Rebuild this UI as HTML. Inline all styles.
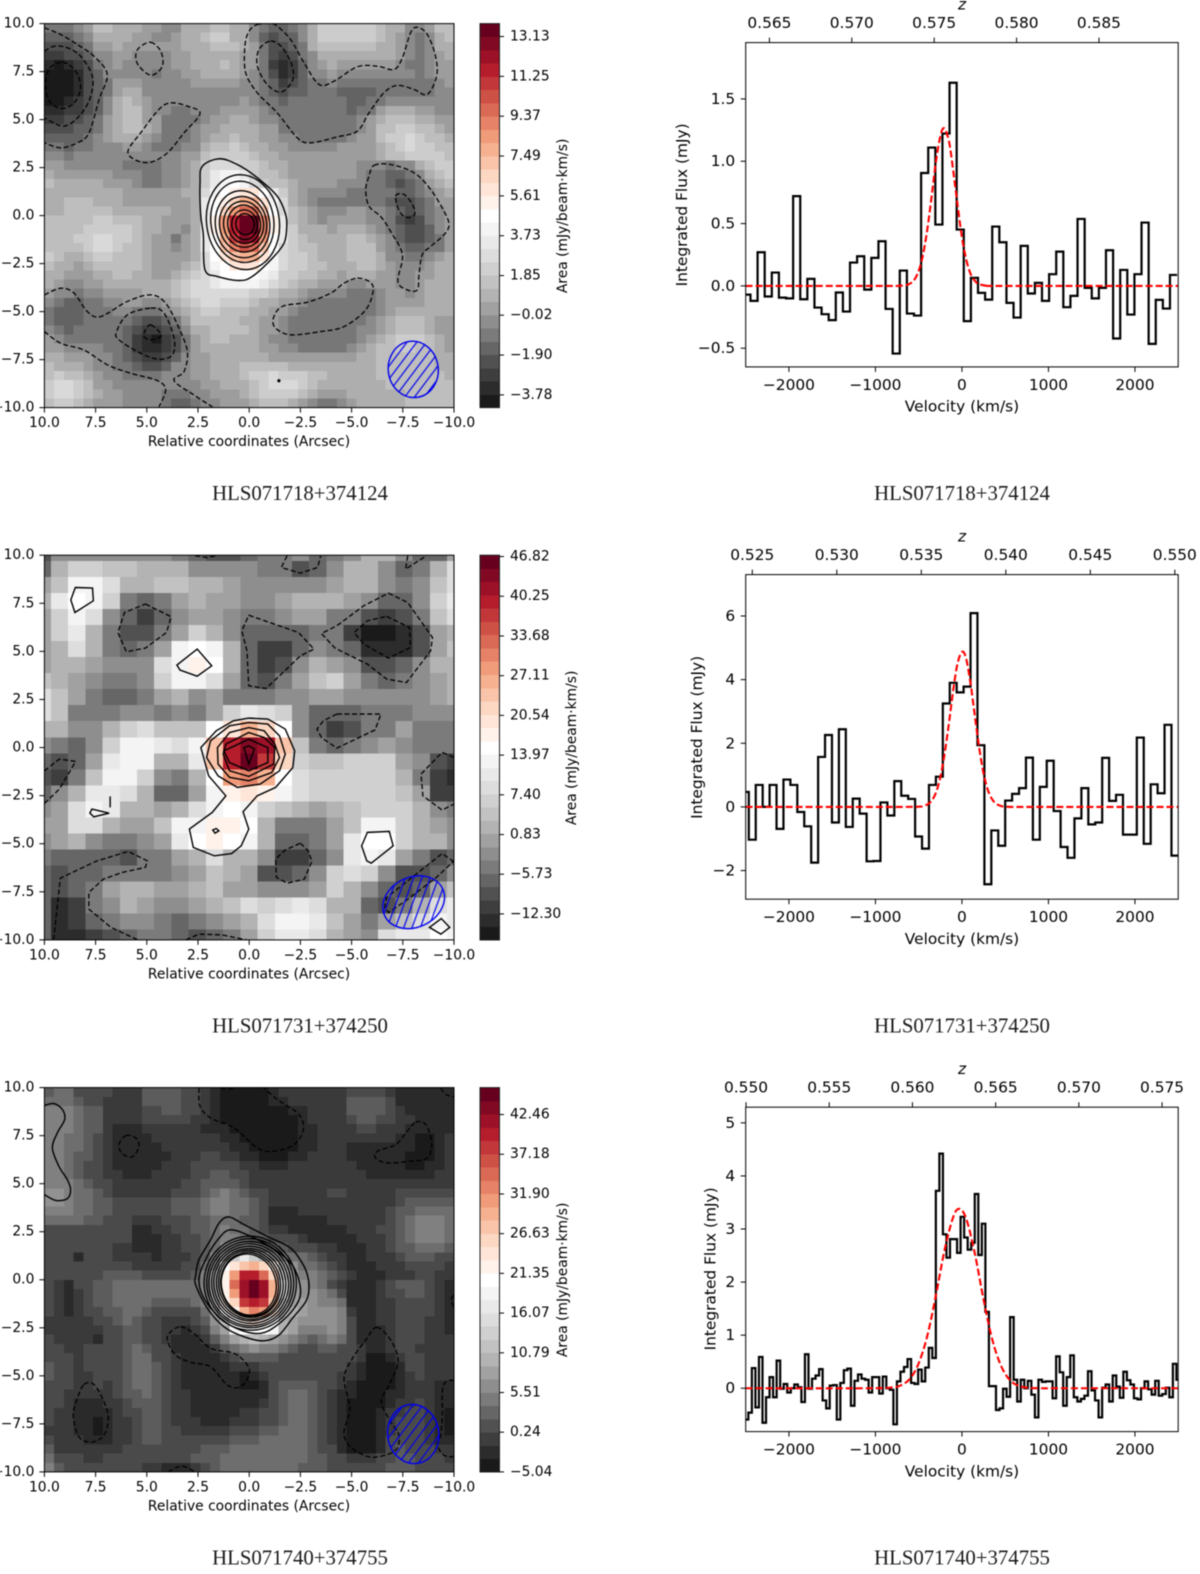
<!DOCTYPE html>
<html lang="en">
<head>
<meta charset="utf-8">
<title>HLS spectral line maps and spectra</title>
<style>
html,body{margin:0;padding:0;background:#fff;}
#figure{position:absolute;left:0;top:0;width:1200px;height:1574px;filter:blur(0.5px);}
text{font-family:"DejaVu Sans",sans-serif;fill:#000;}
.cap{font-family:"Liberation Serif",serif;font-size:20.8px;text-anchor:middle;fill:#1a1a1a;}
.lab-map{font-size:13.85px;text-anchor:middle;}
.lab-spec{font-size:15.4px;text-anchor:middle;}
</style>
</head>
<body>
<svg id="figure" xmlns="http://www.w3.org/2000/svg" width="1200" height="1574" viewBox="0 0 1200 1574">
<defs>
<pattern id="hatch" width="7.8" height="7.8" patternUnits="userSpaceOnUse" patternTransform="rotate(-45)"><line x1="0" y1="1" x2="7.8" y2="1" stroke="#0000ee" stroke-width="1.2"/></pattern>
<clipPath id="clip-map-a"><rect x="44.4" y="22.7" width="409.6" height="384"/></clipPath>
<clipPath id="clip-map-b"><rect x="44.4" y="554.3" width="409.6" height="384.7"/></clipPath>
<clipPath id="clip-map-c"><rect x="44.4" y="1086.7" width="409.6" height="384.3"/></clipPath>
<clipPath id="clip-spec-a"><rect x="745.7" y="41.7" width="432.5" height="324.3"/></clipPath>
<clipPath id="clip-spec-b"><rect x="745.7" y="573.7" width="432.5" height="324.6"/></clipPath>
<clipPath id="clip-spec-c"><rect x="745.7" y="1106.3" width="432.5" height="324.4"/></clipPath>
</defs>

<g transform="translate(0,0.9)">
<g id="map-a"></g>
<g id="map-b"></g>
<g id="map-c"></g>
<g id="spec-a"></g>
<g id="spec-b"></g>
<g id="spec-c"></g>

<text class="lab-map" x="249" y="441" dominant-baseline="central">Relative coordinates (Arcsec)</text>
<text class="lab-map" x="249" y="973.5" dominant-baseline="central">Relative coordinates (Arcsec)</text>
<text class="lab-map" x="249" y="1505.5" dominant-baseline="central">Relative coordinates (Arcsec)</text>
<text class="lab-map" transform="translate(563,215) rotate(-90)" dominant-baseline="central">Area (mJy/beam·km/s)</text>
<text class="lab-map" transform="translate(572,747) rotate(-90)" dominant-baseline="central">Area (mJy/beam·km/s)</text>
<text class="lab-map" transform="translate(563,1279) rotate(-90)" dominant-baseline="central">Area (mJy/beam·km/s)</text>

<text class="lab-spec" x="962" y="405.7" dominant-baseline="central">Velocity (km/s)</text>
<text class="lab-spec" x="962" y="938" dominant-baseline="central">Velocity (km/s)</text>
<text class="lab-spec" x="962" y="1470.5" dominant-baseline="central">Velocity (km/s)</text>
<text class="lab-spec" transform="translate(682,204) rotate(-90)" dominant-baseline="central">Integrated Flux (mJy)</text>
<text class="lab-spec" transform="translate(697,736.5) rotate(-90)" dominant-baseline="central">Integrated Flux (mJy)</text>
<text class="lab-spec" transform="translate(710.6,1268) rotate(-90)" dominant-baseline="central">Integrated Flux (mJy)</text>
<text class="lab-spec" x="962" y="3.7" dominant-baseline="central" font-style="italic">z</text>
<text class="lab-spec" x="962" y="535.7" dominant-baseline="central" font-style="italic">z</text>
<text class="lab-spec" x="962" y="1068" dominant-baseline="central" font-style="italic">z</text>
</g>

<text class="cap" x="300" y="500">HLS071718+374124</text>
<text class="cap" x="962" y="500">HLS071718+374124</text>
<text class="cap" x="300" y="1032.5">HLS071731+374250</text>
<text class="cap" x="962" y="1032.5">HLS071731+374250</text>
<text class="cap" x="300" y="1564.5">HLS071740+374755</text>
<text class="cap" x="962" y="1564.5">HLS071740+374755</text>
</svg>

<script>
/* ---------- heatmap values: colour-band index per cell, 0 (darkest) to 28 (deepest red) ---------- */
const heatA = [
[5,5,5,6,7,9,9,8,8,8,7,7,6,6,8,8,8,9,9,8,8,6,5,4,4,5,6,8,10,10,10,10,10,10,9,8,8,6,6,7,9,9],
[4,4,4,5,6,8,8,8,8,7,7,6,6,7,8,8,9,10,10,8,8,6,4,3,4,4,6,8,10,10,10,10,10,10,9,8,7,6,5,6,8,9],
[3,3,3,4,5,7,7,8,7,7,7,7,7,7,8,8,8,9,9,9,8,7,5,3,3,4,5,8,9,9,9,9,9,9,8,8,7,6,5,6,8,8],
[2,2,3,3,4,6,6,7,7,6,6,6,6,7,7,8,8,8,8,8,7,7,5,3,2,3,5,6,8,8,8,8,8,8,8,8,7,6,5,6,7,8],
[1,0,1,2,3,5,6,7,6,6,6,6,6,7,7,8,8,8,9,8,7,7,5,2,1,2,4,6,7,8,7,7,7,7,7,7,6,5,5,6,7,7],
[0,0,0,1,3,4,6,6,6,6,6,5,6,6,7,7,8,8,8,8,7,6,5,3,1,2,4,6,6,7,6,6,6,6,6,6,6,6,5,6,7,7],
[0,0,0,1,3,4,5,7,7,7,6,6,6,6,6,7,7,7,7,7,6,6,5,4,2,3,4,5,5,6,5,5,5,5,5,5,5,5,5,5,6,7],
[0,0,0,1,3,4,5,7,8,8,6,6,6,6,6,6,6,6,6,6,6,6,5,4,3,4,4,5,5,5,4,4,4,4,5,5,5,5,5,5,6,6],
[0,0,1,2,3,4,6,8,9,8,7,6,6,6,6,6,6,6,6,6,7,6,5,5,4,5,5,5,5,5,5,4,4,5,5,6,6,6,6,6,6,6],
[1,1,2,2,3,4,6,8,9,9,7,6,6,5,5,6,6,6,7,7,7,7,6,5,5,5,5,5,5,5,5,4,5,5,7,8,8,8,7,7,6,6],
[2,2,3,3,4,5,7,8,9,9,7,7,5,5,5,5,6,7,7,8,8,7,6,6,5,5,5,5,5,5,5,5,6,7,8,9,9,9,8,8,7,7],
[3,3,3,4,4,5,7,8,9,9,8,7,5,5,5,6,7,7,8,8,8,8,7,7,5,5,5,5,5,5,5,5,6,7,9,9,10,10,9,9,8,7],
[4,4,4,4,5,6,7,8,8,8,7,6,5,5,5,6,7,8,8,9,8,8,7,7,6,6,5,5,5,5,5,6,7,7,9,10,10,11,10,9,9,8],
[5,5,4,5,5,6,6,6,7,7,6,5,5,5,6,6,8,9,9,10,9,8,8,7,7,6,6,6,6,6,7,7,7,7,8,9,10,11,10,10,9,9],
[6,6,5,6,6,6,6,6,6,6,6,6,6,6,7,7,9,10,10,10,10,9,8,8,7,7,7,7,7,7,7,7,7,7,8,9,9,10,10,10,10,9],
[7,7,6,6,6,6,6,6,5,5,5,5,6,6,7,8,10,11,11,11,10,10,9,8,8,7,7,7,7,7,7,7,6,6,6,5,6,6,8,9,10,10],
[8,7,7,7,7,7,7,6,6,6,5,5,6,6,7,8,10,12,13,13,12,10,9,9,8,7,7,7,7,7,7,7,6,5,5,4,4,5,6,8,9,10],
[9,8,8,8,8,8,7,7,7,6,5,5,6,6,7,8,10,12,13,14,13,11,10,9,9,8,7,7,7,7,6,6,6,5,5,4,3,4,5,7,8,9],
[8,8,8,8,8,8,8,8,7,7,7,7,7,7,8,8,11,13,14,15,16,16,14,12,10,8,7,6,6,6,6,5,5,5,5,5,4,4,5,6,7,8],
[8,8,9,9,9,8,8,8,7,7,7,7,7,7,7,8,12,14,15,17,19,19,16,13,11,8,7,6,5,5,5,5,5,5,5,4,3,3,4,5,7,7],
[8,8,9,9,9,9,9,8,8,8,8,8,8,7,7,8,12,14,17,20,22,22,18,14,11,9,8,7,6,6,6,7,7,6,6,5,4,3,4,5,6,7],
[9,9,9,9,9,10,10,9,9,9,8,8,7,7,7,8,12,15,20,25,28,28,21,15,12,9,8,7,6,7,7,7,7,6,6,5,3,2,3,5,6,7],
[9,9,9,9,10,10,10,10,10,9,8,8,7,7,6,8,12,15,20,25,28,28,21,15,12,10,8,8,8,7,8,8,8,7,6,5,4,3,3,4,6,7],
[9,9,9,10,10,11,11,10,10,9,8,7,7,5,7,8,12,14,19,24,27,26,20,14,12,10,9,8,8,8,8,9,9,8,7,6,4,3,3,4,5,7],
[9,9,9,9,10,11,11,10,9,9,8,7,7,6,7,8,12,14,18,21,23,22,18,14,11,10,9,9,8,8,8,9,9,9,7,6,5,4,4,5,5,7],
[10,9,8,8,9,10,10,9,9,9,8,7,7,7,7,8,11,14,16,18,19,19,16,13,11,10,10,9,8,8,8,9,9,9,8,6,6,5,5,6,7,8],
[9,8,8,7,8,9,9,9,9,9,8,7,7,7,8,9,11,13,14,16,16,16,14,13,11,10,10,9,9,8,8,8,9,9,8,7,6,6,6,7,8,8],
[8,8,7,7,7,8,8,9,9,8,8,7,7,8,9,10,11,12,14,14,14,14,13,12,10,10,9,9,8,8,7,8,8,8,7,7,6,6,7,7,8,8],
[8,7,6,6,7,7,8,8,8,8,8,8,8,9,10,11,11,12,13,13,13,13,12,11,10,9,8,8,7,7,7,6,6,7,7,7,6,6,7,8,8,8],
[7,6,6,5,6,6,7,7,7,7,8,8,8,9,10,11,11,11,11,11,11,10,10,9,8,8,7,6,6,6,6,5,5,5,6,7,7,6,7,8,8,8],
[6,5,4,4,5,5,6,6,7,7,6,6,7,8,9,10,11,11,10,10,10,9,8,8,7,7,6,5,5,5,5,5,5,5,6,7,7,7,7,8,8,8],
[5,4,4,4,5,5,5,6,6,5,5,5,6,7,8,9,10,10,9,9,9,8,8,7,7,6,5,5,5,5,5,5,5,5,6,7,8,8,8,8,8,8],
[5,4,4,4,5,5,5,5,5,4,3,3,4,5,7,9,9,9,9,9,8,8,7,7,6,5,5,5,5,5,5,5,5,6,7,8,9,9,9,8,7,7],
[6,5,4,5,5,5,5,5,4,3,2,2,3,4,6,8,8,9,9,9,9,8,7,7,6,5,5,5,5,5,5,5,6,6,7,8,9,9,9,8,7,7],
[7,6,5,5,5,5,5,5,4,2,1,0,2,3,5,7,8,9,9,8,8,8,7,6,6,5,5,5,5,5,5,5,6,7,8,9,10,10,10,9,8,7],
[7,7,6,6,6,6,5,5,4,2,1,1,2,3,5,7,8,8,8,8,8,8,7,7,6,6,5,5,5,5,5,6,7,8,9,9,10,10,9,9,8,7],
[8,8,7,7,7,6,6,5,4,3,2,2,3,4,6,7,7,8,8,8,8,8,8,7,7,7,7,7,7,7,7,7,8,8,9,9,9,9,9,9,8,8],
[9,8,8,8,7,6,6,5,5,4,3,3,4,6,6,7,7,8,8,8,9,9,9,9,9,8,8,8,8,8,8,8,8,8,9,9,9,9,9,9,8,8],
[9,10,9,9,8,7,6,6,5,5,5,5,6,6,6,7,7,8,8,8,9,10,10,11,10,10,10,9,9,8,8,8,8,8,9,9,9,9,9,9,9,8],
[10,11,11,10,9,7,7,6,6,6,6,6,6,6,6,6,7,7,8,8,8,9,10,11,11,11,10,9,8,8,8,8,8,8,8,9,9,9,9,9,9,9],
[10,11,11,10,9,8,7,7,6,6,6,6,5,5,5,6,6,7,7,7,8,9,10,10,10,10,9,8,7,7,7,8,8,8,8,8,8,9,9,9,9,9],
[9,10,10,9,8,7,7,7,6,6,6,6,5,4,4,5,6,6,7,7,7,8,9,9,9,8,7,6,5,5,6,7,8,8,8,8,8,9,9,9,9,9]
];
const heatB = [
[3,6,6,6,6,6,6,6,5,4,3,3,4,5,5,6,4,5,6,8,8,6,4,4,7],
[4,8,10,10,9,9,8,8,8,6,6,6,6,5,5,3,4,6,8,8,6,4,5,8,11],
[7,9,13,13,11,8,8,9,9,8,8,7,6,6,6,6,6,7,8,8,6,5,6,9,11],
[8,12,14,13,10,5,4,5,7,8,7,7,6,6,7,8,8,8,7,6,4,4,6,10,12],
[7,10,13,11,6,4,2,4,6,7,7,6,5,5,6,7,7,5,5,3,2,3,5,9,11],
[7,10,12,8,5,3,3,5,7,10,8,6,4,4,4,4,5,5,2,0,0,1,3,7,8],
[7,8,11,8,5,4,5,7,13,14,13,8,4,2,2,4,6,5,4,1,1,1,3,7,9],
[7,8,8,7,6,6,6,11,13,15,14,8,4,2,3,6,8,7,6,3,3,4,6,8,8],
[9,8,7,6,5,5,6,10,13,13,11,7,4,3,5,7,9,10,7,5,4,5,6,7,8],
[11,9,7,5,4,4,5,7,8,6,7,5,5,5,6,6,7,7,6,6,6,6,6,7,8],
[11,9,5,5,5,6,6,5,6,5,7,10,12,11,10,6,4,4,4,5,5,5,6,6,6],
[8,8,6,6,8,10,11,9,9,9,14,16,19,17,14,6,4,2,3,5,5,7,5,5,5],
[6,5,4,6,10,13,13,12,11,13,18,25,27,26,18,9,5,4,5,6,7,6,5,5,5],
[4,3,4,7,12,13,13,8,8,12,18,25,28,24,17,10,9,9,10,10,10,7,6,3,2],
[3,2,5,9,13,13,10,6,5,8,14,20,21,19,14,11,10,10,10,10,10,8,5,2,1],
[4,6,8,12,12,11,8,4,4,7,13,15,16,15,13,11,10,10,10,10,10,9,7,2,2],
[6,7,11,13,12,8,8,7,8,11,13,14,13,10,9,8,7,8,9,10,10,10,8,6,5],
[7,7,11,11,8,7,7,9,13,13,15,15,14,8,5,5,5,7,9,13,13,10,8,7,6],
[6,7,8,6,5,5,6,7,12,14,15,14,13,8,4,4,5,7,12,14,14,10,8,8,6],
[5,4,4,4,4,3,5,5,7,8,11,8,8,6,2,2,4,6,12,13,12,7,5,3,4],
[4,3,4,4,5,5,5,5,6,7,9,8,7,3,3,4,6,10,11,10,6,3,3,4,6],
[4,3,4,5,7,8,8,7,7,8,9,7,7,6,6,6,7,10,8,6,4,3,4,7,9],
[4,1,2,5,6,8,7,6,6,7,8,9,11,10,11,12,11,8,8,4,3,5,8,11,12],
[4,1,2,4,5,6,6,5,4,5,6,7,8,11,13,13,12,9,7,5,7,9,11,13,12],
[4,1,1,2,3,4,5,5,4,3,4,5,7,10,12,12,11,8,7,6,11,12,12,14,13]
];
const heatC = [
[4,5,5,3,3,3,3,2,2,2,4,4,4,4,3,3,2,1,0,0,0,0,0,1,2,2,2,2,2,2,2,3,3,3,3,2,1,1,1,1,1,1],
[5,5,5,4,3,3,2,2,2,2,4,4,4,4,3,3,2,1,0,0,0,0,0,1,1,2,2,2,2,2,2,4,4,4,4,3,1,1,1,1,1,1],
[6,6,6,5,4,4,2,2,2,2,3,3,4,4,3,3,2,1,0,0,0,0,0,0,0,1,1,2,2,2,2,4,4,4,4,3,2,1,1,1,1,1],
[6,6,6,5,4,4,2,2,2,2,3,3,3,3,3,2,2,1,0,0,0,0,0,0,0,0,1,2,2,2,2,3,4,4,3,3,2,2,1,1,1,1],
[6,6,6,5,4,4,2,1,1,1,2,2,2,2,2,2,1,1,1,0,0,0,0,0,0,0,1,1,2,2,2,2,3,3,2,2,2,1,1,1,1,1],
[6,6,5,5,4,3,2,1,1,1,1,2,2,2,2,2,2,2,1,1,0,0,0,0,0,0,1,1,2,2,2,2,2,2,2,2,1,1,0,0,1,2],
[6,6,5,5,4,3,2,1,1,1,1,1,2,2,2,2,2,2,2,1,1,0,0,0,0,0,1,1,2,2,2,1,1,1,1,1,1,1,0,0,1,2],
[6,6,5,4,4,3,2,1,1,1,1,1,1,2,2,2,3,3,2,2,1,1,0,0,0,1,1,2,2,2,2,1,1,1,1,1,1,0,0,0,1,2],
[6,6,5,4,3,3,2,1,1,1,1,1,2,2,2,3,3,3,3,3,2,2,1,1,1,2,2,2,2,2,2,2,1,1,1,1,1,0,0,1,1,2],
[6,6,5,4,3,3,2,2,1,1,1,2,2,2,2,3,3,4,4,3,3,2,2,2,2,2,2,2,2,2,2,2,2,1,1,1,1,1,1,1,2,2],
[6,6,6,5,4,3,3,2,2,2,2,2,2,2,3,3,4,4,4,4,3,2,2,2,2,2,2,2,2,2,2,2,2,2,2,2,2,2,2,2,2,2],
[7,7,6,5,5,4,3,2,2,2,2,2,2,3,3,3,4,5,6,5,4,3,3,2,2,2,2,2,2,3,3,2,2,2,2,2,3,3,3,3,3,3],
[7,7,6,5,5,4,4,3,3,3,3,3,3,4,4,4,5,6,6,5,5,4,3,2,2,2,2,2,2,2,2,2,2,2,2,2,3,4,4,4,4,4],
[6,6,6,5,5,4,4,3,3,3,3,3,3,4,4,4,5,6,6,5,5,4,3,1,1,1,2,2,2,2,2,2,2,2,2,3,4,4,5,5,5,5],
[5,5,5,5,4,4,3,3,3,2,2,2,3,3,3,4,4,5,5,5,4,4,3,1,1,1,1,1,1,2,2,2,2,2,2,3,4,5,6,6,6,5],
[3,3,3,3,3,3,3,3,3,1,1,2,2,3,3,4,4,5,6,5,5,4,3,2,2,1,1,1,1,1,1,2,2,2,3,3,4,5,6,6,6,5],
[3,3,3,3,3,3,3,3,3,1,1,1,2,2,3,3,4,5,6,6,5,4,4,3,3,3,2,1,1,1,1,1,2,2,2,3,4,5,6,6,6,5],
[3,3,3,3,3,3,3,2,2,1,1,1,2,2,3,3,4,5,7,7,7,6,5,5,4,3,3,3,2,2,1,1,1,2,2,3,4,4,5,5,5,4],
[3,3,3,1,3,3,3,2,2,2,2,1,2,2,2,3,4,6,9,11,12,11,9,7,6,5,5,4,3,2,2,1,1,2,2,2,3,4,4,4,3,3],
[3,3,3,3,3,3,3,3,3,2,2,2,2,2,3,3,5,7,14,16,18,19,17,15,9,7,5,5,4,3,2,1,1,1,2,2,2,3,3,3,3,2],
[3,3,3,3,3,3,4,4,4,4,3,3,3,3,3,4,6,9,15,20,25,25,22,17,11,8,6,6,5,4,3,2,1,1,1,2,2,2,3,3,2,2],
[3,2,1,3,3,4,4,5,5,5,5,5,5,5,5,5,6,9,15,22,26,28,26,19,12,8,7,6,5,3,2,1,1,1,2,3,4,4,4,3,2,1],
[3,2,1,2,3,4,4,5,5,5,5,5,5,5,5,5,6,9,15,20,26,28,26,19,12,8,7,7,6,5,3,1,1,1,2,3,3,4,4,3,2,1],
[3,2,1,2,3,4,4,5,5,5,5,4,4,4,4,5,6,9,15,17,24,25,24,18,11,8,8,7,6,6,5,1,1,1,2,2,3,3,3,3,2,1],
[3,2,1,2,3,3,4,4,5,5,4,3,3,3,3,3,5,8,14,15,19,21,20,16,10,9,8,7,7,7,6,2,1,1,2,2,3,3,3,3,2,1],
[2,2,2,2,2,3,3,4,5,4,3,3,2,2,2,3,4,7,10,14,15,16,15,14,9,8,7,7,7,7,6,3,1,1,2,2,3,3,3,2,2,1],
[2,2,2,2,2,2,3,3,4,4,3,3,2,2,1,2,3,6,8,13,14,14,14,13,9,8,6,6,6,7,6,3,1,1,1,2,3,3,3,2,2,1],
[3,2,2,2,2,1,3,3,4,4,3,3,2,1,1,1,2,4,6,8,9,10,9,8,7,6,5,4,5,6,5,3,1,1,1,2,3,3,3,2,2,2],
[3,3,2,2,3,3,3,3,4,5,4,3,3,1,1,1,1,2,4,5,6,7,6,6,5,4,3,3,4,4,3,3,2,1,1,2,3,3,2,2,2,2],
[3,3,3,2,3,3,3,3,4,5,5,3,3,2,1,1,1,1,2,3,4,4,4,4,3,3,3,3,3,3,3,3,2,0,0,1,2,3,3,2,2,2],
[4,3,3,2,3,3,3,3,4,5,5,4,3,2,1,1,1,1,1,2,2,2,3,3,3,3,3,3,3,3,3,2,1,0,0,0,1,3,3,2,2,2],
[4,3,3,2,2,3,3,3,4,5,5,4,3,2,1,1,1,1,1,1,0,1,2,3,3,3,3,3,3,3,2,2,1,0,0,0,1,2,3,2,2,2],
[3,3,3,2,2,3,2,3,4,5,5,4,3,2,1,1,1,1,1,1,0,0,1,3,4,4,4,4,3,3,2,1,0,0,0,0,1,2,2,2,1,1],
[3,3,2,2,2,2,2,3,4,4,5,4,3,2,2,1,1,1,1,1,1,1,1,3,4,5,5,4,3,2,1,1,0,0,0,1,1,2,2,2,1,1],
[3,3,2,1,1,1,2,2,3,4,4,4,3,2,2,1,1,1,1,1,1,1,2,3,4,5,5,4,3,2,1,0,0,0,0,1,2,2,3,2,1,1],
[3,2,2,1,1,1,1,2,3,3,4,4,3,2,2,1,1,1,1,1,2,2,3,3,4,5,5,4,3,2,1,0,0,0,1,2,2,3,3,2,1,0],
[3,2,2,1,1,0,1,2,2,3,4,4,3,2,2,2,1,1,1,2,2,2,3,3,4,5,5,4,3,2,1,0,0,0,1,2,3,3,3,2,1,0],
[2,2,2,1,1,0,1,2,2,3,4,4,3,3,2,2,2,2,2,3,3,3,4,4,5,5,5,4,3,2,1,0,0,0,1,2,3,3,3,2,1,0],
[3,2,2,2,1,1,1,2,2,3,4,4,3,3,3,3,3,3,3,4,4,4,5,5,5,5,5,4,3,2,1,0,0,0,1,3,3,3,3,2,1,1],
[4,2,2,2,2,2,2,2,3,3,3,3,3,3,3,3,4,4,4,5,5,5,5,5,5,5,5,4,3,3,1,0,0,0,1,3,4,3,3,3,2,2],
[5,3,3,3,2,2,3,3,3,3,3,3,3,3,3,4,4,4,5,5,5,5,5,5,5,5,5,4,4,3,3,2,2,2,3,3,4,4,3,3,3,2],
[6,4,3,3,3,3,3,3,3,3,2,2,1,1,1,2,3,4,5,5,5,5,5,5,5,5,4,4,4,3,3,3,3,3,3,4,4,4,3,3,3,3]
];

const dashedClosedA = [
[[9.12,7.99],[8.47,7.52],[8.23,6.65],[8.55,5.87],[9.12,5.58],[9.69,5.87],[9.94,6.65],[9.78,7.61]],
[[4.81,9.03],[4.32,8.56],[4.24,7.78],[4.78,7.31],[5.38,7.78],[5.54,8.3],[5.38,8.74]],
[[3.83,5.87],[3.02,5.7],[2.4,5.32],[3.18,4.31],[3.99,3.27],[4.81,2.78],[5.54,2.89],[5.92,3.36],[5.3,4.31],[4.41,5.53]],
[[-0.4,9.95],[-1.05,10],[-1.37,9.87],[-2.02,9.17],[-2.68,7.96],[-3.41,6.83],[-4.14,7],[-5.28,7.75],[-6.26,7.78],[-7.07,7.61],[-7.48,8.22],[-7.88,9.52],[-8.21,9.81],[-8.7,9.43],[-9.1,8.3],[-9.15,7.26],[-8.7,6.31],[-8.05,6.57],[-7.23,6.78],[-6.58,6.4],[-5.85,5.35],[-5.28,4.4],[-4.3,4.1],[-3,3.79],[-2.35,4.05],[-1.37,5.35],[-0.4,6.39],[0.17,7.44],[0.21,8.82],[0.01,9.6]],
[[-1.05,9.09],[-1.62,8.74],[-2.1,7.78],[-2.1,7],[-1.54,6.43],[-0.88,6.83],[-0.4,7.78],[-0.48,8.65]],
[[-6.09,2.61],[-6.9,2.66],[-8.05,2.23],[-8.86,1.36],[-9.51,0.23],[-9.76,-0.48],[-9.51,-1],[-8.86,-1.61],[-8.45,-2.04],[-8.29,-3.09],[-8.21,-3.87],[-7.72,-3.87],[-7.26,-3.43],[-7.48,-2.04],[-6.91,-0.83],[-6.42,-0.05],[-5.85,0.49],[-5.69,1.36],[-5.85,2.05]],
[[-7.15,1.01],[-7.56,1.1],[-7.97,0.58],[-8.08,0.06],[-7.72,-0.1],[-7.35,0.2]],
[[4.81,-4.82],[4.16,-5.08],[3.67,-6.38],[3.75,-7.25],[4.4,-7.48],[5.3,-7.17],[6.36,-6.47],[6.47,-6.04],[5.95,-5.17]],
[[4.81,-5.69],[4.4,-6.04],[4.32,-6.3],[4.78,-6.47],[5.14,-6.3],[5.06,-5.95]],
[[-5.28,-3.26],[-5.85,-3.43],[-6.06,-3.87],[-5.69,-4.91],[-4.63,-5.78],[-3.49,-6.04],[-2.02,-6.21],[-1.29,-5.86],[-1.18,-5.34],[-1.62,-4.73],[-2.84,-4.51],[-3.98,-4.04],[-4.63,-3.52]]
];
const dashedOpenA = [
[[10,9.78],[9.2,9.43],[8.39,8.91],[7.58,8.3],[6.93,7.35],[7.33,6.05],[7.82,4.31],[8.39,3.79],[9.2,3.53],[10,3.79]],
[[10,8.56],[9.53,8.82],[8.88,8.74],[8.23,8.3],[7.66,7.26],[7.74,6.22],[8.23,5.27],[9.04,4.66],[10,5.09]],
[[10,-4.13],[9.2,-3.78],[8.55,-4.04],[7.9,-5],[7.25,-5.26],[5.95,-4.47],[4.81,-4.13],[4.08,-4.56],[3.43,-5.86],[3.02,-7.08],[3.18,-8.12],[3.67,-8.59],[2.7,-9.34],[1.8,-9.96]],
[[10,-6.04],[9.2,-6.65],[8.07,-7],[6.93,-7.77],[5.79,-8.21],[4.49,-8.59],[4.08,-9.07],[4.4,-9.96]]
];
const solidClosedA = [
[[1.47,2.96],[0.58,2.66],[-0.4,1.97],[-1.37,1.01],[-1.78,0.06],[-1.83,-0.65],[-1.7,-1.44],[-1.13,-2.22],[-0.15,-3.17],[0.5,-3.38],[1.56,-3.17],[2.16,-2.82],[2.24,-1],[2.37,0.04],[2.4,1.71],[2.29,2.57]]
];
const ringCxA = [0.305,0.335,0.325,0.3,0.275,0.25,0.225,0.2];
const ringCyA = [-0.34,-0.325,-0.45,-0.45,-0.45,-0.45,-0.475,-0.45];
const ringRxA = [1.775,1.535,1.325,1.15,0.975,0.8,0.625,0.45];
const ringRyA = [2.48,2.125,1.75,1.45,1.2,1,0.775,0.55];

const solidClosedB = [
[[8.49,8.32],[7.65,8.29],[7.61,7.63],[8.51,7.02],[8.71,7.68]],
[[2.54,5.12],[1.83,4.25],[2.54,3.71],[3.38,4.03],[3.53,4.29]],
[[0.02,1.53],[-0.91,1.48],[-1.76,0.96],[-2.22,-0.17],[-2.13,-1.04],[-1.29,-2.07],[-0.39,-2.51],[0.3,-3.34],[0.02,-4.24],[0.39,-5.11],[0.86,-5.51],[1.7,-5.63],[2.73,-5.19],[2.92,-4.24],[1.8,-3.37],[1.14,-2.51],[1.98,-1.47],[2.36,0],[1.61,0.87],[0.77,1.39]],
[[0.02,1.3],[-0.91,1.22],[-1.48,0.61],[-1.76,-0.34],[-1.48,-1.21],[-0.54,-1.9],[0.58,-2.07],[1.52,-1.47],[2.08,-0.52],[1.89,0.35],[0.96,1.13]],
[[0.02,1.04],[-0.73,0.87],[-1.25,0.18],[-1.48,-0.52],[-1.1,-1.3],[0.02,-1.73],[0.96,-1.55],[1.52,-0.86],[1.55,0],[0.96,0.78]],
[[0.02,0.78],[-0.73,0.52],[-1.25,0],[-1.2,-0.86],[0.02,-1.5],[0.96,-1.21],[1.27,-0.34],[1.14,0.18]],
[[0.02,0.43],[-0.91,0],[-0.91,-0.78],[0.02,-1.21],[0.96,-0.78],[1.24,-0.17]],
[[0.02,0.09],[-0.26,-0.08],[0.02,-0.86],[0.26,0]],
[[1.61,-4.21],[1.48,-4.33],[1.67,-4.45],[1.78,-4.29]],
[[-5.77,-4.41],[-6.84,-4.36],[-7.03,-5.11],[-5.96,-6.01],[-5.74,-5.89],[-5.49,-5.11]],
[[-9.38,-8.89],[-9.79,-9.35],[-9.36,-9.7],[-8.8,-9.35]],
[[7.68,-3.2],[6.84,-3.41],[7.59,-3.6],[7.78,-3.41]]
];
const solidOpenB = [
[[6.79,-2.54],[6.79,-3.11]]
];
const dashedClosedB = [
[[5.07,7.46],[3.81,6.8],[4.04,5.98],[5.07,5.17],[6,4.98],[6.41,5.98],[6.09,7.02]],
[[0.02,6.88],[-2.41,5.98],[-3.16,5.12],[-2.5,4.77],[-1.57,3.82],[-0.82,3.07],[0.02,3.21],[0.11,5.03],[0.36,6.07]],
[[-6.8,8.03],[-7.74,7.54],[-8.95,5.72],[-8.86,5.03],[-7.68,3.38],[-6.71,3.56],[-5.77,4.34],[-4.19,5.17],[-3.53,5.93],[-4.28,6.33],[-5.59,7.37]],
[[-6.71,6.82],[-7.83,6.24],[-7.87,5.2],[-6.8,4.65],[-5.59,5.38],[-5.12,5.98],[-5.77,6.59]],
[[-4.28,1.74],[-6.43,1.74],[-6.15,0.92],[-4.28,-0.03],[-3.53,0.52],[-3.31,0.96],[-3.62,1.39]],
[[-2.5,-4.97],[-2.88,-5.37],[-3.06,-5.92],[-2.69,-6.84],[-1.85,-7.05],[-1.33,-6.75],[-1.29,-5.8],[-1.76,-5.33]]
];
const dashedOpenB = [
[[-1.85,9.97],[-1.57,9.36],[-2.5,9.07],[-3.34,9.36],[-3.49,9.97]],
[[-7.74,9.97],[-7.64,9.28],[-8.58,9.92]],
[[2.64,9.97],[2.08,9.88],[1.61,9.97]],
[[10,-1.21],[9.27,-0.6],[8.47,-0.72],[9.27,-2.16],[10,-2.91]],
[[-10,-0.51],[-9.42,-0.25],[-8.39,-1.38],[-8.48,-2.51],[-9.42,-3.25],[-10,-2.94]],
[[9.55,-10],[9.22,-6.79],[7.5,-5.92],[5.91,-5.4],[4.97,-5.89],[5.07,-6.23],[6.19,-6.49],[7.12,-6.84],[7.83,-7.53],[7.83,-8.4],[6.75,-9.35],[5.44,-10]],
[[3.1,-10],[2.45,-9.7],[1.33,-9.74],[0.11,-10]],
[[-10,-5.94],[-9.42,-5.51],[-6.71,-7.8],[-6.62,-8.32],[-6.8,-8.58],[-7.64,-7.97],[-9.14,-6.75],[-10,-5.89]]
];

const solidOpenC = [
[[10,9.07],[9.53,9.17],[9.12,8.86],[9.01,8.34],[9.37,7.64],[9.61,6.86],[9.29,5.9],[8.88,5.21],[8.72,4.69],[8.88,4.22],[9.45,4.13],[10,4.43]]
];
const solidClosedC = [
[[0.99,3.27],[0.25,2.87],[-0.88,2.26],[-2.02,1.65],[-2.59,0.87],[-2.84,0.26],[-2.92,-0.45],[-2.76,-1.14],[-2.11,-2.01],[-1.45,-2.88],[-0.72,-3.18],[0.25,-2.97],[1.23,-2.45],[2.04,-1.49],[2.61,-0.28],[2.61,0.25],[2.45,1.05],[1.88,2.09],[1.47,2.95]],
[[0.91,2.6],[-0.07,2.26],[-1.37,1.48],[-2.19,0.61],[-2.51,-0.62],[-2.19,-1.49],[-1.37,-2.36],[-0.56,-2.79],[0.42,-2.62],[1.39,-2.01],[2.21,-0.97],[2.45,0.07],[2.05,1.22],[1.47,2.17]]
];
const dashedClosedC = [
[[6.03,7.5],[5.54,7.38],[5.38,6.95],[5.71,6.39],[6.2,6.57],[6.36,7.03]],
[[-8.13,8.2],[-8.62,8.08],[-8.91,7.12],[-8.7,6.34],[-7.88,6.17],[-6.74,6.08],[-6.17,6.34],[-6.26,6.69],[-7.15,7.03],[-7.72,7.73]],
[[3.35,-2.45],[2.7,-2.79],[1.88,-3.57],[0.74,-3.83],[0.09,-4.44],[0.01,-4.96],[0.42,-5.57],[1.07,-5.48],[1.88,-4.53],[2.86,-4.3],[3.59,-3.92],[4,-3.14],[3.83,-2.71]],
[[8.07,-5.45],[7.58,-5.45],[7.09,-6.35],[6.88,-7.22],[7.09,-8.09],[7.66,-8.44],[8.31,-8.18],[8.59,-7.05],[8.39,-6.18]],
[[-6.22,-2.48],[-6.91,-3.14],[-7.27,-4.27],[-6.83,-5.48],[-6.45,-6.35],[-6.91,-7.39],[-7.31,-8.09],[-7.15,-8.87],[-6.26,-9.22],[-5.6,-9.13],[-4.87,-8.61],[-4.63,-7.91],[-4.92,-6.7],[-4.63,-5.14],[-5.04,-4.1],[-5.69,-3.14]]
];
const dashedOpenC = [
[[2.45,9.98],[2.4,9.03],[1.88,8.42],[0.74,7.9],[-0.4,6.86],[-1.21,6.69],[-2.19,7.03],[-2.64,7.81],[-2.43,8.6],[-1.37,9.38],[-0.72,9.98]],
[[1.4,9.98],[1,9.92],[0.7,9.98]],
[[-9.35,9.98],[-9.6,9.64],[-10,9.52]],
[[-10,-5.22],[-9.6,-5.31],[-9.43,-5.83],[-9.43,-7.05],[-9.35,-8.09],[-9.19,-8.61],[-9.51,-9.13],[-10,-9.22]],
[[-9.97,-0.8],[-9.87,-1.06],[-9.97,-1.4]],
[[3.95,-10],[3.29,-9.7],[2.64,-10]]
];
const ringCxC = [-0.05,-0.05,-0.04,-0.04,-0.03,-0.03,-0.02,-0.02,0.02];
const ringCyC = [-0.18,-0.18,-0.2,-0.2,-0.2,-0.22,-0.22,-0.24,-0.25];
const ringRxC = [2.25,2.12,2,1.87,1.75,1.62,1.5,1.4,1.33];
const ringRyC = [2.45,2.32,2.2,2.08,1.95,1.85,1.75,1.67,1.6];

/* ---------- colour bars ---------- */
const cbTicksA = [13.13,11.25,9.37,7.49,5.61,3.73,1.85,-0.02,-1.90,-3.78];
const cbTicksB = [46.82,40.25,33.68,27.11,20.54,13.97,7.40,0.83,-5.73,-12.30];
const cbTicksC = [42.46,37.18,31.90,26.63,21.35,16.07,10.79,5.51,0.24,-5.04];
const cbRangeA = [-4.38,13.74];
const cbRangeB = [-16.6,47.04];
const cbRangeC = [-5.04,46.04];
const mapTicks = [10,7.5,5,2.5,0,-2.5,-5,-7.5,-10];

/* ---------- spectra: flux per channel, mJy ---------- */
const fluxA = [-0.07,-0.12,0.27,-0.085,0.107,-0.094,-0.10,0.72,-0.107,0.056,-0.174,-0.227,-0.275,-0.053,-0.206,0.187,0.238,-0.03,0.225,0.358,-0.185,-0.543,0.123,-0.222,-0.238,0.906,1.11,0.492,1.222,1.63,0.452,-0.283,0.064,-0.056,-0.11,0.476,0.35,-0.136,-0.254,0.321,-0.061,0.024,-0.12,0.094,0.275,-0.171,-0.08,0.537,-0.016,-0.10,-0.016,0.286,-0.422,0.128,-0.23,0.094,0.508,-0.465,-0.112,-0.182,0.088];
const fluxB = [0.47,-1.03,0.69,0,0.69,-0.69,0.86,0.69,-0.16,-0.61,-1.75,1.57,2.26,-0.49,2.44,-0.63,0.26,-0.21,-1.71,-1.70,0.14,-0.27,0.81,0.35,0.25,-0.93,-1.31,0.69,0.95,3.25,3.9,3.6,3.78,6.09,1.94,-2.43,-0.74,-1.22,0.2,0.41,0.59,1.55,-1.03,0.63,1.45,-0.13,-1.26,-1.60,-0.36,0.59,-0.55,-0.49,1.54,0.19,0.38,-0.87,-0.87,2.18,-1.16,0.71,0.43,2.58,-1.53];
const fluxC = [-0.59,-0.46,0.38,-0.36,0.59,-0.65,-0.17,0.21,-0.17,0.52,-0.01,0.08,-0.08,0,0.07,0.02,-0.26,0.64,-0.01,0.18,0.24,0.36,-0.23,-0.38,0.05,0.06,-0.59,0.10,0.34,0.37,-0.33,0.14,0.26,0.18,0.16,-0.08,0.21,0.21,-0.10,0.22,0,-0.03,-0.68,0.13,0.31,0.40,0.55,0.10,0.08,0.35,0.13,0.39,0.76,0.57,3.72,4.42,2.9,2.46,2.81,2.81,2.55,3.23,2.84,2.61,2.74,3.66,2.51,3.1,1.44,0.04,0.04,-0.41,-0.38,-0.01,-0.16,1.34,0.16,-0.25,0.16,0,0.14,-0.12,-0.55,0.16,0.12,0.13,0.13,-0.19,0.6,0.3,-0.33,0.21,0.62,-0.17,-0.25,-0.2,-0.14,0.32,-0.04,-0.23,-0.55,0.01,0.07,-0.25,0.24,0.03,-0.18,0.31,0.15,0.07,-0.19,-0.21,0,0.13,-0.02,-0.12,0.14,-0.14,-0.11,0.01,-0.17,0.46,0.16];
const fitVelA = [-2500,-1000,-750,-650,-600,-550,-500,-450,-400,-350,-300,-250,-207,-150,-100,-50,0,50,100,150,200,300,500,2500];
const fitFluxA = [0,0,0,0.006,0.018,0.05,0.12,0.25,0.455,0.72,1,1.2,1.265,1.16,0.92,0.645,0.39,0.21,0.096,0.04,0.014,0,0,0];
const fitVelB = [-2500,-800,-500,-450,-400,-350,-300,-250,-200,-150,-100,-50,5,50,100,150,200,250,300,350,400,450,500,600,900,2500];
const fitFluxB = [0,0,0.007,0.025,0.075,0.195,0.45,0.93,1.68,2.64,3.68,4.52,4.88,4.64,3.87,2.84,1.85,1.05,0.53,0.235,0.09,0.03,0.01,0,0,0];
const fitVelC = [-2500,-1100,-800,-700,-600,-500,-400,-300,-200,-100,-30,50,150,250,350,450,550,650,750,900,1200,2500];
const fitFluxC = [0,0,0.017,0.06,0.18,0.47,0.99,1.76,2.61,3.23,3.38,3.19,2.53,1.67,0.92,0.43,0.16,0.05,0.01,0,0,0];
const velTicks = [-2000,-1000,0,1000,2000];
const fluxTicksA = [-0.5,0,0.5,1,1.5];
const fluxTicksB = [-2,0,2,4,6];
const fluxTicksC = [0,1,2,3,4,5];
const zTicksA = [0.565,0.570,0.575,0.580,0.585];
const zTicksB = [0.525,0.530,0.535,0.540,0.545,0.550];
const zTicksC = [0.550,0.555,0.560,0.565,0.570,0.575];

/* ---------- drawing ---------- */
const NS = 'http://www.w3.org/2000/svg';
const STOP_T = [0,0.1,0.2,0.3,0.4,0.5,0.6,0.7,0.8,0.9,1];
const STOP_C = [[26,26,26],[77,77,77],[135,135,135],[186,186,186],[224,224,224],[255,255,255],[253,219,199],[244,165,130],[214,96,77],[178,24,43],[103,0,31]];
const BANDS = 29;

function bandColor(k){
  const t = Math.max(0, Math.min(1, k / (BANDS - 1)));
  let i = Math.min(9, Math.floor(t * 10));
  const f = (t - STOP_T[i]) / 0.1;
  const c = STOP_C[i].map((v, j) => Math.round(v + (STOP_C[i + 1][j] - v) * f));
  return 'rgb(' + c.join(',') + ')';
}
function mk(parent, tag, attrs, text){
  const n = document.createElementNS(NS, tag);
  for (const key in attrs) n.setAttribute(key, attrs[key]);
  if (text !== undefined) n.textContent = text;
  parent.appendChild(n);
  return n;
}
function minus(s){ return String(s).replace('-', '\u2212'); }
function polyPath(pts, closed){
  return 'M' + pts.map(p => p[0].toFixed(2) + ' ' + p[1].toFixed(2)).join('L') + (closed ? 'Z' : '');
}
function smoothPath(pts, closed){
  const n = pts.length;
  if (n < 3) return polyPath(pts, closed);
  let d = 'M' + pts[0][0].toFixed(2) + ' ' + pts[0][1].toFixed(2);
  const last = closed ? n : n - 1;
  const at = i => closed ? pts[(i + n) % n] : pts[Math.max(0, Math.min(n - 1, i))];
  for (let i = 0; i < last; i++){
    const p0 = at(i - 1), p1 = at(i), p2 = at(i + 1), p3 = at(i + 2);
    d += 'C' + (p1[0] + (p2[0] - p0[0]) / 6).toFixed(2) + ' ' + (p1[1] + (p2[1] - p0[1]) / 6).toFixed(2) + ' ' +
         (p2[0] - (p3[0] - p1[0]) / 6).toFixed(2) + ' ' + (p2[1] - (p3[1] - p1[1]) / 6).toFixed(2) + ' ' +
         p2[0].toFixed(2) + ' ' + p2[1].toFixed(2);
  }
  return d + (closed ? 'Z' : '');
}

function drawMap(cfg){
  const root = document.getElementById(cfg.id);
  const sx = v => cfg.x0 + (10 - v) / 20 * (cfg.x1 - cfg.x0);
  const sy = v => cfg.y0 + (10 - v) / 20 * (cfg.y1 - cfg.y0);
  const cellColor = v => bandColor(v < 12 ? v * cfg.greyGain : v);
  const plot = mk(root, 'g', {'clip-path': 'url(#clip-' + cfg.id + ')'});
  
  
  const bg = mk(plot, 'rect', {x: cfg.x0, y: cfg.y0, width: cfg.x1 - cfg.x0, height: cfg.y1 - cfg.y0, fill: bandColor(cfg.bgBand)});
  
  
  const cells = mk(plot, 'g', {'shape-rendering': 'crispEdges'});
  
  
  cfg.heat.forEach((row, r) => row.forEach((v, c) => {
    const cell = mk(cells, 'rect', {x: (cfg.gridX + c * cfg.cellW).toFixed(2), y: (cfg.gridY + r * cfg.cellH).toFixed(2), width: (cfg.cellW + 0.4).toFixed(2), height: (cfg.cellH + 0.4).toFixed(2), fill: cellColor(v)});
    
    
  }));
  const toPx = pts => pts.map(p => [sx(p[0]), sy(p[1])]);
  const shape = cfg.smooth ? smoothPath : polyPath;
  (cfg.dashedClosed || []).forEach(pts => {
    const n = mk(plot, 'path', {d: shape(toPx(pts), true), fill: 'none', stroke: '#000', 'stroke-width': 1.3, 'stroke-dasharray': '5 2.6'});
    
    
  });
  (cfg.dashedOpen || []).forEach(pts => {
    const n = mk(plot, 'path', {d: shape(toPx(pts), false), fill: 'none', stroke: '#000', 'stroke-width': 1.3, 'stroke-dasharray': '5 2.6'});
    
    
  });
  (cfg.solidClosed || []).forEach(pts => {
    const n = mk(plot, 'path', {d: shape(toPx(pts), true), fill: 'none', stroke: '#000', 'stroke-width': 1.4});
    
    
  });
  (cfg.solidOpen || []).forEach(pts => {
    const n = mk(plot, 'path', {d: shape(toPx(pts), false), fill: 'none', stroke: '#000', 'stroke-width': 1.4});
    
    
  });
  (cfg.ringCx || []).forEach((cx, i) => {
    const px = sx(cx), py = sy(cfg.ringCy[i]);
    const n = mk(plot, 'ellipse', {cx: px, cy: py, rx: cfg.ringRx[i] * (cfg.x1 - cfg.x0) / 20, ry: cfg.ringRy[i] * (cfg.y1 - cfg.y0) / 20, fill: 'none', stroke: '#000', 'stroke-width': 1.35, transform: 'rotate(' + cfg.ringRot + ' ' + px + ' ' + py + ')'});
    
    
  });
  if (cfg.dot){
    const n = mk(plot, 'circle', {cx: sx(cfg.dot[0]), cy: sy(cfg.dot[1]), r: 1.6, fill: '#000'});
    
    
  }
  const bx = sx(cfg.beam[0]), by = sy(cfg.beam[1]);
  const beam = mk(plot, 'ellipse', {cx: bx, cy: by, rx: cfg.beam[2] * (cfg.x1 - cfg.x0) / 20, ry: cfg.beam[3] * (cfg.y1 - cfg.y0) / 20, fill: 'url(#hatch)', stroke: '#0000ee', 'stroke-width': 1.4, transform: 'rotate(' + cfg.beam[4] + ' ' + bx + ' ' + by + ')'});
  
  
  const frame = mk(root, 'rect', {x: cfg.x0, y: cfg.y0, width: cfg.x1 - cfg.x0, height: cfg.y1 - cfg.y0, fill: 'none', stroke: '#000', 'stroke-width': 1});
  
  
  mapTicks.forEach(v => {
    const tx = mk(root, 'line', {x1: sx(v), x2: sx(v), y1: cfg.y1, y2: cfg.y1 + 5, stroke: '#000', 'stroke-width': 1});
    
    
    const lx = mk(root, 'text', {x: sx(v), y: cfg.y1 + 15.5, 'font-size': 13.85, 'text-anchor': 'middle', 'dominant-baseline': 'central'}, minus(v.toFixed(1)));
    
    
    const ty = mk(root, 'line', {x1: cfg.x0 - 5, x2: cfg.x0, y1: sy(v), y2: sy(v), stroke: '#000', 'stroke-width': 1});
    
    
    const ly = mk(root, 'text', {x: cfg.x0 - 10, y: sy(v), 'font-size': 13.85, 'text-anchor': 'end', 'dominant-baseline': 'central'}, minus(v.toFixed(1)));
    
    
  });
  /* colour bar */
  const cb = mk(root, 'g', {'shape-rendering': 'crispEdges'});
  
  
  const cbx0 = 480, cbx1 = 499.5, bh = (cfg.y1 - cfg.y0) / BANDS;
  for (let k = 0; k < BANDS; k++){
    const band = mk(cb, 'rect', {x: cbx0, y: (cfg.y1 - (k + 1) * bh).toFixed(2), width: cbx1 - cbx0, height: (bh + 0.4).toFixed(2), fill: bandColor(k)});
    
    
  }
  const cbFrame = mk(root, 'rect', {x: cbx0, y: cfg.y0, width: cbx1 - cbx0, height: cfg.y1 - cfg.y0, fill: 'none', stroke: '#222', 'stroke-width': 1});
  
  
  const cy = v => cfg.y1 - (v - cfg.cbRange[0]) / (cfg.cbRange[1] - cfg.cbRange[0]) * (cfg.y1 - cfg.y0);
  cfg.cbTicks.forEach(v => {
    const t = mk(root, 'line', {x1: cbx1, x2: cbx1 + 4.5, y1: cy(v), y2: cy(v), stroke: '#000', 'stroke-width': 1});
    
    
    const l = mk(root, 'text', {x: 510, y: cy(v), 'font-size': 13.85, 'dominant-baseline': 'central'}, minus(v.toFixed(2)));
    
    
  });
}

function drawSpectrum(cfg){
  const root = document.getElementById(cfg.id);
  const sx = v => cfg.x0 + (v + 2500) / 5000 * (cfg.x1 - cfg.x0);
  const sy = v => cfg.y1 - (v - cfg.yMin) / (cfg.yMax - cfg.yMin) * (cfg.y1 - cfg.y0);
  const sz = z => cfg.x0 + (z - cfg.zMin) / (cfg.zMax - cfg.zMin) * (cfg.x1 - cfg.x0);
  const plot = mk(root, 'g', {'clip-path': 'url(#clip-' + cfg.id + ')'});
  
  
  let d = '';
  cfg.flux.forEach((f, i) => {
    const c = cfg.velStart + i * cfg.velStep;
    const a = sx(c - cfg.velStep / 2), b = sx(c + cfg.velStep / 2), y = sy(f);
    d += (i === 0 ? 'M' : 'L') + a.toFixed(2) + ' ' + y.toFixed(2) + 'L' + b.toFixed(2) + ' ' + y.toFixed(2);
  });
  const step = mk(plot, 'path', {d: d, fill: 'none', stroke: '#000', 'stroke-width': 2.2, 'stroke-linejoin': 'miter'});
  
  
  const fit = mk(plot, 'path', {d: smoothPath(cfg.fitVel.map((v, i) => [sx(v), sy(cfg.fitFlux[i])]), false), fill: 'none', stroke: 'red', 'stroke-width': 2.1, 'stroke-dasharray': '7 3'});
  
  
  const frame = mk(root, 'rect', {x: cfg.x0, y: cfg.y0, width: cfg.x1 - cfg.x0, height: cfg.y1 - cfg.y0, fill: 'none', stroke: '#000', 'stroke-width': 1});
  
  
  velTicks.forEach(v => {
    const t = mk(root, 'line', {x1: sx(v), x2: sx(v), y1: cfg.y1, y2: cfg.y1 + 5, stroke: '#000', 'stroke-width': 1});
    
    
    const l = mk(root, 'text', {x: sx(v), y: cfg.y1 + 18, 'font-size': 15.4, 'text-anchor': 'middle', 'dominant-baseline': 'central'}, minus(v));
    
    
  });
  cfg.fluxTicks.forEach(v => {
    const t = mk(root, 'line', {x1: cfg.x0 - 5, x2: cfg.x0, y1: sy(v), y2: sy(v), stroke: '#000', 'stroke-width': 1});
    
    
    const l = mk(root, 'text', {x: cfg.x0 - 10.5, y: sy(v), 'font-size': 15.4, 'text-anchor': 'end', 'dominant-baseline': 'central'}, minus(v.toFixed(cfg.fluxDigits)));
    
    
  });
  cfg.zTicks.forEach(v => {
    const t = mk(root, 'line', {x1: sz(v), x2: sz(v), y1: cfg.y0 - 5, y2: cfg.y0, stroke: '#000', 'stroke-width': 1});
    
    
    const l = mk(root, 'text', {x: sz(v), y: cfg.y0 - 19.5, 'font-size': 15.4, 'text-anchor': 'middle', 'dominant-baseline': 'central'}, v.toFixed(3));
    
    
  });
}

const W = 409.6 / 42;
drawMap({id:'map-a',x0:44.4,x1:454,y0:22.7,y1:406.7,gridX:44.4,gridY:22.7,cellW:W,cellH:384/42,heat:heatA,bgBand:7,greyGain:0.97,smooth:true,
  dashedClosed:dashedClosedA,dashedOpen:dashedOpenA,solidClosed:solidClosedA,
  ringCx:ringCxA,ringCy:ringCyA,ringRx:ringRxA,ringRy:ringRyA,ringRot:-8,
  dot:[-1.45,-8.6],beam:[-8.01,-8.01,1.22,1.47,-8],cbTicks:cbTicksA,cbRange:cbRangeA});
drawMap({id:'map-b',x0:44.4,x1:454,y0:554.3,y1:939,gridX:33.7,gridY:544,cellW:17.22,cellH:16.03,heat:heatB,bgBand:6,greyGain:1,smooth:false,
  dashedClosed:dashedClosedB,dashedOpen:dashedOpenB,solidClosed:solidClosedB,solidOpen:solidOpenB,
  beam:[-8.03,-8.04,1.56,1.3,-25],cbTicks:cbTicksB,cbRange:cbRangeB});
drawMap({id:'map-c',x0:44.4,x1:454,y0:1086.7,y1:1471,gridX:44.4,gridY:1086.7,cellW:W,cellH:384.3/42,heat:heatC,bgBand:3,greyGain:0.88,smooth:true,
  dashedClosed:dashedClosedC,dashedOpen:dashedOpenC,solidClosed:solidClosedC,solidOpen:solidOpenC,
  ringCx:ringCxC,ringCy:ringCyC,ringRx:ringRxC,ringRy:ringRyC,ringRot:-16,
  beam:[-8.01,-8.03,1.25,1.54,-8],cbTicks:cbTicksC,cbRange:cbRangeC});

drawSpectrum({id:'spec-a',x0:745.7,x1:1178.2,y0:41.7,y1:366,yMin:-0.65,yMax:1.952,zMin:0.56356,zMax:0.58981,
  flux:fluxA,velStart:-2486,velStep:82.2,fitVel:fitVelA,fitFlux:fitFluxA,fluxTicks:fluxTicksA,fluxDigits:1,zTicks:zTicksA});
drawSpectrum({id:'spec-b',x0:745.7,x1:1178.2,y0:573.7,y1:898.3,yMin:-2.9,yMax:7.3,zMin:0.52461,zMax:0.5502,
  flux:fluxB,velStart:-2504,velStep:80.1,fitVel:fitVelB,fitFlux:fitFluxB,fluxTicks:fluxTicksB,fluxDigits:0,zTicks:zTicksB});
drawSpectrum({id:'spec-c',x0:745.7,x1:1178.2,y0:1106.3,y1:1430.7,yMin:-0.817,yMax:5.295,zMin:0.54998,zMax:0.57597,
  flux:fluxC,velStart:-2490,velStep:40.9,fitVel:fitVelC,fitFlux:fitFluxC,fluxTicks:fluxTicksC,fluxDigits:0,zTicks:zTicksC});
</script>
</body>
</html>
